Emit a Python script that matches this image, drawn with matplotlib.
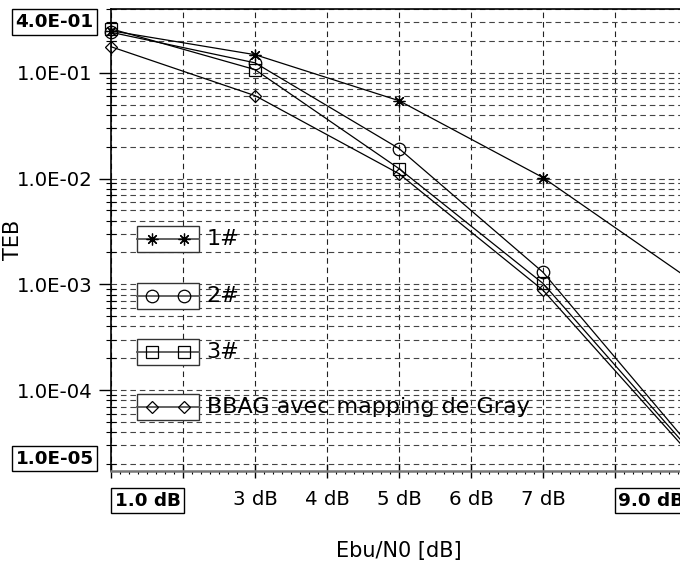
import matplotlib
matplotlib.use('Agg')
import matplotlib.pyplot as plt
from matplotlib.patches import Rectangle
from matplotlib.lines import Line2D
from matplotlib.ticker import FixedLocator, LogLocator, NullFormatter, MultipleLocator
import numpy as np

# data
ebn0 = [1, 3, 5, 7, 9]
teb_1 = [0.249, 0.148, 0.0544, 0.0102, 0.00116]
teb_2 = [0.241, 0.124, 0.0192, 0.0013, 3.2e-5]
teb_3 = [0.26, 0.107, 0.0124, 0.00102, 2.9e-5]
teb_gray = [0.176, 0.0607, 0.0111, 0.00088, 2.66e-5]

series = [teb_1, teb_2, teb_3, teb_gray]
series_names = ['1#', '2#', '3#', 'BBAG avec mapping de Gray']
series_markers = [(8, 2, 0), 'o', 's', 'D']
series_sizes = [8.5, 9, 8.5, 6.5]

x_ticks = [1, 2, 3, 4, 5, 6, 7, 8, 9]
x_ticklabels = ['', '', '3 dB', '4 dB', '5 dB', '6 dB', '7 dB', '', '']
y_ticks = [1e-1, 1e-2, 1e-3, 1e-4]
y_ticklabels = ['1.0E-01', '1.0E-02', '1.0E-03', '1.0E-04']
x_lim = (1, 9)
y_lim = (1.72e-5, 0.4)
x_lim_labels = ['1.0 dB', '9.0 dB']
y_lim_labels = ['4.0E-01', '1.0E-05']

plt.rcParams['font.family'] = ['DejaVu Sans']

W, H = 680, 562
fig = plt.figure(figsize=(W / 100, H / 100), dpi=100)
ax = fig.add_axes([111 / W, (H - 471) / H, 576 / W, 462 / H])

def fig_px(x, y):
    return x / W, 1 - y / H

for vals, m, ms in zip(series, series_markers, series_sizes):
    ax.plot(ebn0, vals, color='black', lw=0.9, marker=m, ms=ms, mfc='none',
            mec='black', mew=0.9, clip_on=False, zorder=3)

ax.set_yscale('log')
ax.set_xlim(*x_lim)
ax.set_ylim(*y_lim)

ax.yaxis.set_major_locator(FixedLocator(y_ticks))
ax.yaxis.set_minor_locator(LogLocator(base=10, subs=np.arange(2, 10)))
ax.yaxis.set_minor_formatter(NullFormatter())
ax.set_yticklabels(y_ticklabels)
ax.xaxis.set_major_locator(FixedLocator(x_ticks))
ax.xaxis.set_minor_locator(MultipleLocator(0.125))
ax.set_xticklabels(x_ticklabels)

ax.tick_params(axis='y', which='major', direction='out', length=9, width=1, pad=4, labelsize=14.2)
ax.tick_params(axis='y', which='minor', direction='inout', length=7, width=0.8)
ax.tick_params(axis='x', which='major', direction='inout', length=10, width=1, pad=9, labelsize=14.2)
ax.tick_params(axis='x', which='minor', direction='out', length=2.5, width=0.8)

dash = (0, (5, 3.5))
ax.grid(True, which='both', axis='y', ls=dash, color='#444444', lw=0.8)
ax.grid(True, which='major', axis='x', ls=dash, color='#222222', lw=0.8)

ax.spines['right'].set_visible(False)
ax.spines['left'].set_linewidth(1.2)
ax.spines['top'].set_linewidth(1.2)
ax.spines['bottom'].set_color('#777777')
ax.spines['bottom'].set_linewidth(1.8)

ax.set_xlabel('Ebu/N0 [dB]', fontsize=15)
ax.set_ylabel('TEB', fontsize=15)
ax.xaxis.set_label_coords(0.5, -0.152)
ax.yaxis.set_label_coords(-0.153, 0.5)

# boxed limit labels
box = dict(boxstyle='square,pad=0.2', fc='white', ec='black', lw=1)
lim_pos = [(147.5, 500.5), (651.5, 500.5), (54.5, 22), (54.5, 458.5)]
for s, (px, py) in zip(x_lim_labels + y_lim_labels, lim_pos):
    fx, fy = fig_px(px, py)
    fig.text(fx, fy, s, ha='center', va='center', fontsize=13.2,
             fontweight='bold', bbox=box)

# legend drawn as separate boxes
leg_y = [0.502, 0.379, 0.258, 0.139]
for name, m, ms, yc in zip(series_names, series_markers, series_sizes, leg_y):
    ax.add_patch(Rectangle((0.0451, yc - 0.028), 0.1077, 0.056, transform=ax.transAxes,
                           fc='white', ec='#333333', lw=1, zorder=4))
    ax.add_line(Line2D([0.0451, 0.1528], [yc, yc], transform=ax.transAxes,
                       color='#555555', lw=1.3, zorder=5))
    ax.add_line(Line2D([0.0712, 0.1267], [yc, yc], transform=ax.transAxes, ls='none',
                       marker=m, ms=ms, mfc='none', mec='black', mew=0.9, zorder=6))
    ax.text(0.166, yc, name, transform=ax.transAxes, ha='left', va='center',
            fontsize=16, zorder=6)

fig.savefig('out.png', dpi=100)
